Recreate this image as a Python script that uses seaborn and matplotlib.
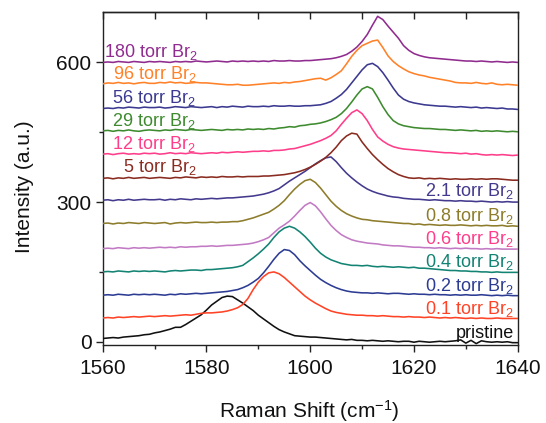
import numpy as np
import pandas as pd
import matplotlib
matplotlib.use("Agg")
import matplotlib.pyplot as plt
import seaborn as sns
from matplotlib.ticker import MultipleLocator

# ---------------- data ----------------
raman_shift = list(range(1560, 1641))  # cm^-1 sampling grid

pristine = [7, 8, 9, 8, 10, 11, 12, 13, 15, 16,
            19, 21, 24, 27, 31, 31, 37, 44, 51, 58,
            68, 79, 87, 95, 98, 97, 90, 83, 75, 67,
            57, 49, 41, 33, 26, 21, 17, 13, 12, 11,
            10, 10, 9, 8, 7, 6, 5, 4, 5, 3,
            3, 2, 3, 2, 1, 2, 1, 0, 1, 1,
            -1, 1, 0, -1, 0, 1, 0, 1, 2, 4,
            -3, 3, -4, 2, 0, -1, 0, -1, 0, -2,
            -2]
torr_0p1 = [51, 52, 51, 53, 52, 53, 54, 53, 54, 55,
            54, 55, 56, 55, 56, 57, 58, 57, 59, 61,
            62, 62, 63, 64, 66, 69, 73, 80, 93, 112,
            128, 140, 148, 150, 146, 138, 128, 118, 108, 98,
            90, 83, 77, 71, 66, 63, 61, 59, 58, 57,
            57, 56, 56, 55, 56, 55, 54, 54, 53, 54,
            53, 53, 52, 53, 52, 51, 52, 51, 52, 51,
            50, 51, 50, 51, 50, 50, 51, 50, 50, 50,
            50]
torr_0p2 = [100, 101, 100, 102, 101, 100, 102, 101, 102, 101,
            102, 101, 100, 102, 101, 103, 102, 103, 104, 103,
            104, 105, 106, 107, 108, 110, 112, 116, 121, 128,
            136, 148, 162, 177, 190, 198, 196, 187, 174, 163,
            153, 143, 134, 127, 121, 116, 112, 109, 107, 106,
            105, 105, 104, 105, 104, 103, 104, 104, 103, 102,
            103, 102, 102, 101, 102, 101, 101, 100, 101, 100,
            101, 100, 100, 101, 100, 99, 100, 99, 100, 99,
            99]
torr_0p4 = [150, 151, 150, 152, 151, 150, 152, 151, 152, 151,
            152, 151, 150, 152, 153, 152, 153, 154, 154, 153,
            155, 155, 156, 157, 158, 159, 161, 164, 172, 180,
            189, 199, 210, 224, 236, 244, 248, 244, 236, 226,
            214, 201, 190, 182, 176, 172, 168, 166, 164, 164,
            163, 164, 162, 161, 162, 161, 160, 161, 160, 159,
            160, 158, 158, 157, 156, 155, 154, 153, 153, 152,
            152, 151, 151, 150, 150, 149, 150, 149, 149, 149,
            149]
torr_0p6 = [200, 201, 200, 202, 201, 200, 202, 201, 202, 201,
            202, 203, 202, 203, 202, 204, 203, 204, 204, 205,
            205, 206, 205, 206, 207, 207, 208, 209, 210, 212,
            215, 219, 224, 234, 244, 251, 259, 270, 282, 293,
            299, 292, 279, 264, 250, 239, 230, 224, 219, 216,
            214, 212, 211, 210, 208, 207, 206, 206, 205, 204,
            203, 203, 202, 202, 201, 202, 201, 200, 201, 200,
            201, 200, 200, 199, 200, 199, 200, 199, 199, 199,
            199]
torr_0p8 = [254, 255, 253, 255, 254, 256, 255, 254, 256, 255,
            254, 255, 256, 253, 255, 256, 255, 256, 257, 256,
            256, 257, 256, 257, 257, 258, 258, 260, 263, 266,
            270, 274, 278, 285, 293, 303, 316, 328, 338, 346,
            349, 342, 330, 316, 302, 291, 282, 275, 270, 266,
            263, 262, 260, 259, 258, 257, 256, 255, 254, 254,
            252, 253, 251, 252, 251, 250, 251, 250, 250, 251,
            250, 249, 250, 249, 250, 249, 249, 250, 248, 249,
            248]
torr_2p1 = [304, 305, 303, 305, 304, 306, 304, 305, 306, 305,
            305, 306, 304, 306, 305, 307, 306, 305, 307, 306,
            307, 308, 307, 308, 309, 309, 310, 311, 312, 313,
            315, 317, 320, 324, 329, 337, 345, 352, 359, 366,
            374, 382, 389, 395, 397, 387, 374, 362, 352, 343,
            335, 328, 323, 319, 316, 313, 311, 310, 308, 307,
            306, 306, 305, 304, 305, 304, 303, 303, 302, 303,
            302, 302, 301, 302, 301, 300, 301, 300, 301, 300,
            300]
torr_5 = [351, 352, 350, 352, 351, 353, 351, 352, 353, 351,
          352, 353, 352, 351, 353, 352, 354, 353, 352, 354,
          353, 354, 353, 355, 354, 354, 355, 354, 355, 355,
          355, 356, 356, 357, 358, 359, 361, 363, 366, 370,
          375, 381, 388, 396, 406, 418, 432, 442, 448, 446,
          429, 415, 402, 391, 381, 372, 365, 359, 355, 352,
          351, 352, 350, 351, 350, 351, 350, 349, 350, 349,
          349, 350, 349, 350, 349, 350, 350, 349, 348, 347,
          347]
torr_12 = [403, 404, 402, 404, 405, 403, 404, 403, 405, 404,
           405, 403, 404, 406, 404, 405, 404, 406, 405, 404,
           405, 406, 405, 407, 406, 407, 408, 407, 408, 409,
           409, 410, 409, 411, 411, 412, 414, 415, 418, 421,
           424, 428, 432, 437, 443, 453, 467, 480, 492, 498,
           490, 475, 456, 440, 431, 424, 419, 416, 414, 413,
           412, 411, 410, 409, 408, 407, 406, 406, 405, 404,
           405, 403, 404, 402, 401, 402, 401, 402, 401, 400,
           401]
torr_29 = [453, 454, 452, 454, 453, 455, 453, 452, 454, 455,
           454, 453, 455, 454, 456, 455, 454, 456, 455, 454,
           455, 456, 455, 454, 456, 455, 456, 455, 457, 456,
           457, 456, 458, 457, 459, 460, 462, 461, 464, 465,
           467, 468, 470, 473, 477, 482, 490, 501, 515, 530,
           543, 548, 543, 525, 505, 488, 475, 468, 464, 462,
           460, 459, 458, 458, 457, 456, 456, 455, 454, 455,
           454, 453, 454, 452, 453, 452, 453, 452, 451, 452,
           451]
torr_56 = [501, 502, 501, 503, 502, 504, 503, 502, 504, 503,
           503, 504, 502, 503, 505, 504, 503, 505, 504, 503,
           504, 505, 503, 505, 504, 506, 505, 504, 506, 505,
           505, 506, 505, 507, 506, 506, 507, 506, 506, 507,
           507, 508, 509, 512, 516, 523, 531, 542, 556, 570,
           584, 595, 598, 591, 578, 562, 545, 530, 521, 516,
           513, 511, 509, 508, 507, 506, 506, 505, 504, 505,
           504, 503, 504, 502, 503, 502, 501, 502, 500, 500,
           499]
torr_96 = [554, 556, 555, 557, 555, 556, 554, 556, 557, 555,
           555, 557, 556, 558, 556, 557, 555, 556, 557, 556,
           556, 555, 554, 553, 552, 552, 553, 551, 551, 552,
           553, 554, 555, 556, 555, 557, 556, 558, 559, 561,
           563, 565, 566, 562, 567, 574, 582, 597, 613, 626,
           636, 641, 646, 648, 632, 614, 602, 593, 586, 580,
           576, 573, 571, 568, 566, 564, 562, 560, 557, 556,
           556, 555, 557, 555, 554, 556, 553, 552, 553, 552,
           551]
torr_180 = [600, 601, 600, 602, 601, 600, 602, 601, 600, 602,
            601, 602, 601, 600, 602, 601, 602, 601, 603, 602,
            601, 602, 603, 602, 601, 603, 602, 603, 602, 603,
            602, 603, 602, 604, 603, 603, 604, 603, 603, 604,
            604, 605, 606, 607, 608, 610, 613, 617, 624, 633,
            645, 660, 680, 699, 692, 678, 665, 652, 636, 626,
            619, 615, 612, 610, 609, 608, 607, 606, 605, 604,
            603, 603, 602, 603, 602, 601, 602, 601, 600, 601,
            600]

series_names = ["pristine", "0.1 torr", "0.2 torr", "0.4 torr", "0.6 torr",
                "0.8 torr", "2.1 torr", "5 torr", "12 torr", "29 torr",
                "56 torr", "96 torr", "180 torr"]
series_values = [pristine, torr_0p1, torr_0p2, torr_0p4, torr_0p6, torr_0p8,
                 torr_2p1, torr_5, torr_12, torr_29, torr_56, torr_96, torr_180]
label_texts = ["pristine", "0.1 torr Br$_2$", "0.2 torr Br$_2$", "0.4 torr Br$_2$",
               "0.6 torr Br$_2$", "0.8 torr Br$_2$", "2.1 torr Br$_2$", "5 torr Br$_2$",
               "12 torr Br$_2$", "29 torr Br$_2$", "56 torr Br$_2$", "96 torr Br$_2$",
               "180 torr Br$_2$"]

# ---------------- styling ----------------
line_colors = ["#111111", "#FF4326", "#2D3C93", "#138373", "#C27AC4", "#8D7C2B",
               "#433A8E", "#8A2B20", "#FF3D8A", "#3E8B2F", "#3B3990", "#FF8128",
               "#902C8F"]
label_colors = ["#111111", "#FF4326", "#2D3C93", "#138373", "#FF3D8A", "#8D7C2B",
                "#433A8E", "#8A2B20", "#FF3D8A", "#3E8B2F", "#3B3990", "#FF8128",
                "#902C8F"]
label_x = [1639.2, 1639.3, 1639.3, 1639.3, 1639.3, 1639.3, 1639.3,
           1563.9, 1561.7, 1561.85, 1561.85, 1561.9, 1560.25]
label_y = [7, 59.5, 109.5, 160, 210, 260, 312, 365, 415, 463, 513, 563.5, 612]
label_ha = ["right"] * 7 + ["left"] * 6

sns.set_theme(style="ticks")
plt.rcParams["font.family"] = ["Liberation Sans", "DejaVu Sans"]
plt.rcParams["mathtext.fontset"] = "custom"
plt.rcParams["mathtext.rm"] = "Liberation Sans"
plt.rcParams["mathtext.it"] = "Liberation Sans:italic"
plt.rcParams["mathtext.bf"] = "Liberation Sans:bold"
plt.rcParams["mathtext.default"] = "regular"

fig = plt.figure(figsize=(5.46, 4.23), dpi=100)
ax = fig.add_axes([0.1881, 0.1844, 0.7601, 0.788])

df = pd.concat(
    [pd.DataFrame({"shift": raman_shift, "intensity": vals, "sample": name})
     for name, vals in zip(series_names, series_values)],
    ignore_index=True,
)

sns.lineplot(data=df, x="shift", y="intensity", hue="sample",
             hue_order=series_names,
             palette=dict(zip(series_names, line_colors)),
             estimator=None, sort=False, legend=False,
             linewidth=1.15, ax=ax, zorder=3)

for txt, c, x, y, ha in zip(label_texts, label_colors, label_x, label_y, label_ha):
    ax.text(x, y, txt, color=c, fontsize=13, ha=ha, va="baseline", zorder=2)

ax.set_xlim(1560, 1640)
ax.set_ylim(-7, 709)
ax.xaxis.set_major_locator(MultipleLocator(20))
ax.xaxis.set_minor_locator(MultipleLocator(10))
ax.yaxis.set_major_locator(MultipleLocator(300))
ax.yaxis.set_minor_locator(MultipleLocator(150))

ax.tick_params(axis="both", which="major", direction="out", length=5, width=1,
               labelsize=15, color="#222222", labelcolor="#111111")
ax.tick_params(axis="both", which="minor", direction="out", length=3, width=1,
               color="#222222")
ax.tick_params(axis="x", which="major", pad=5)
ax.tick_params(axis="y", which="major", pad=3)

secax = ax.secondary_xaxis("top")
secax.xaxis.set_major_locator(MultipleLocator(10))
secax.tick_params(direction="in", length=5, width=1, labeltop=False,
                  color="#222222")
for s in secax.spines.values():
    s.set_linewidth(1.0)
    s.set_color("#222222")

for s in ax.spines.values():
    s.set_visible(True)
    s.set_linewidth(1.0)
    s.set_color("#222222")

ax.set_xlabel("Raman Shift (cm$^{-1}$)", fontsize=15, color="#111111")
ax.set_ylabel("Intensity (a.u.)", fontsize=15, color="#111111")
ax.xaxis.set_label_coords(0.498, -0.159)
ax.yaxis.set_label_coords(-0.166, 0.474)

fig.savefig("out.png", dpi=100)
